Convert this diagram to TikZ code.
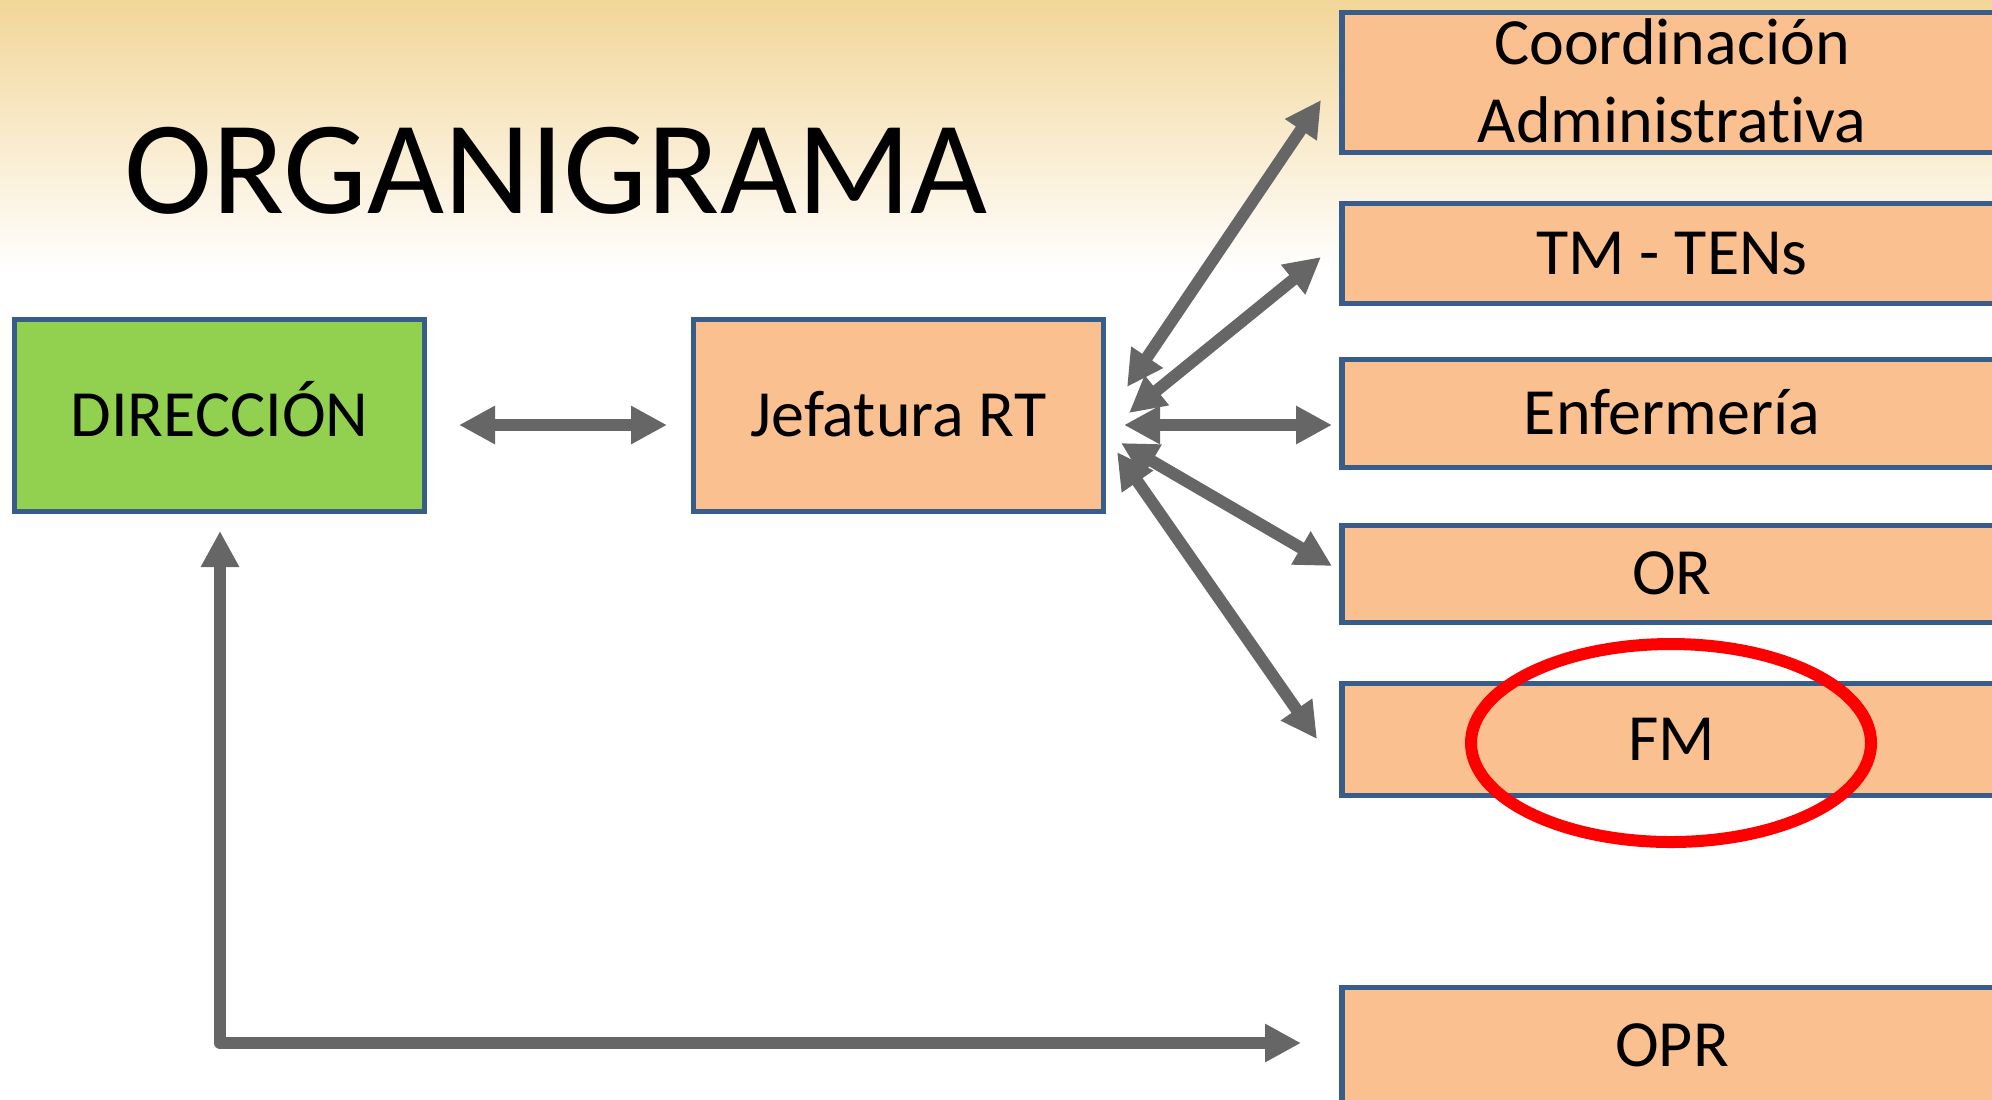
\documentclass[tikz,border=0pt]{standalone}
\usepackage{fontspec}
\setmainfont{Carlito}[Ligatures=NoCommon]
\usetikzlibrary{arrows.meta, positioning, shapes.geometric}
\definecolor{cBorder}{HTML}{385D8A}
\definecolor{cOrange}{HTML}{FAC090}
\definecolor{cGreen}{HTML}{92D050}
\definecolor{cArrow}{HTML}{666666}
\definecolor{cTan}{HTML}{F2D698}
\definecolor{cCream}{HTML}{F7E9CC}

\begin{document}
\begin{tikzpicture}[x=0.5bp, y=-0.5bp,
    unit/.style={rectangle, draw=cBorder, fill=cOrange, line width=2.7bp, inner sep=0pt, align=center,
        font=\fontsize{33bp}{39bp}\selectfont, text height=20.9bp, text depth=0pt},
    head/.style={unit, fill=cGreen, minimum width=205bp, minimum height=96bp},
    dept/.style={unit, minimum width=330bp},
    link/.style={{Triangle[length=18bp,width=18bp]}-{Triangle[length=18bp,width=18bp]}, line width=6bp, cArrow},
    ring/.style={draw=red, line width=6bp}
]
\useasboundingbox (0,0) rectangle (1992,1099);

% Background band (fades to white)
\shade[top color=cTan, middle color=cCream, bottom color=white] (0,0) rectangle (1992,272);

% Title
\node[font=\fontsize{66.5bp}{70bp}\selectfont, anchor=base, inner sep=0pt] (title) at (556,213) {ORGANIGRAMA};

% Main boxes
\node[head] (dir) at (219.5,415.5) {DIRECCIÓN};
\node[unit, minimum width=205bp, minimum height=96bp] (jef) at (898.5,415.5) {Jefatura RT};

% Departments (right column, cut by the page edge)
\node[dept, minimum height=70bp, text height=59.9bp] (coord) at (1672,82.5) {Coordinación\\Administrativa};
\node[dept, minimum height=50bp] (tm) at (1672,253.5) {TM - TENs};
\node[dept, minimum height=54bp] (enf) at (1672,413.5) {Enfermería};
\node[dept, minimum height=48.5bp] (or) at (1672,574) {OR};
\node[dept, minimum height=56bp] (fm) at (1672,739.5) {FM};
\node[dept, minimum height=58bp] (opr) at (1672,1045.5) {OPR};

% Highlight round FM
\draw[ring] (1671,743) ellipse [x radius=200, y radius=99];

% Arrow ends
\coordinate (dirR) at (459,425);
\coordinate (jefL) at (667,425);
\coordinate (hubCoord) at (1127,387);
\coordinate (hubTm) at (1129,413);
\coordinate (hubEnf) at (1124,425);
\coordinate (hubOr) at (1121,443);
\coordinate (hubFm) at (1117,452);
\coordinate (endCoord) at (1321,100);
\coordinate (endTm) at (1321,257);
\coordinate (endEnf) at (1332,425);
\coordinate (endOr) at (1332,566);
\coordinate (endFm) at (1317,739);
\coordinate (dirB) at (220,531);
\coordinate (corner) at (220,1043);
\coordinate (oprL) at (1301,1043);

% Direction <-> Jefatura
\draw[link] (dirR) -- (jefL);

% Fan from Jefatura
\draw[link] (hubCoord) -- (endCoord);
\draw[link] (hubTm) -- (endTm);
\draw[link] (hubEnf) -- (endEnf);
\draw[link] (hubOr) -- (endOr);
\draw[link] (hubFm) -- (endFm);

% Direction <-> OPR
\draw[link, line join=round] (dirB) -- (corner) -- (oprL);

\end{tikzpicture}
\end{document}
